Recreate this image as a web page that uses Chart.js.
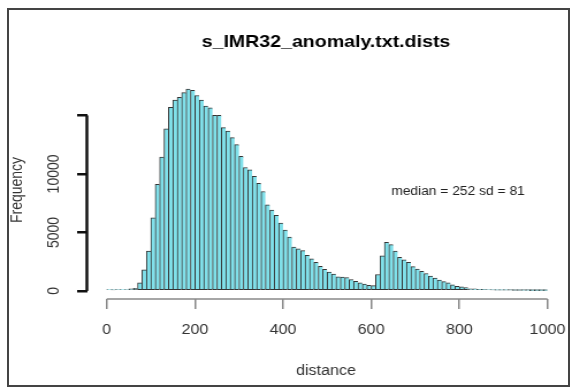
<!DOCTYPE html>
<html>
<head>
<meta charset="utf-8">
<script src="https://cdn.jsdelivr.net/npm/chart.js@4/dist/chart.umd.min.js"></script>
<style>
	html, body { margin: 0; padding: 0; background: #fff; overflow: hidden; }
	#wrap { position: absolute; left: 0; top: 0; width: 497px; height: 388px; transform: scaleX(1.1509); transform-origin: 0 0; }
	#frame { position: absolute; left: 7px; top: 8px; width: 559px; height: 375px; border: 2px solid #444; pointer-events: none; }
</style>
</head>
<body>
<div id="wrap"><canvas id="chart" width="497" height="388"></canvas></div>
<div id="frame"></div>
<script>
	'use strict';

	// Histogram bins (left edges, width 10) and counts.
	const binWidth = 10;
	const binStarts = [
		0, 10, 20, 30, 40, 50, 60, 70, 80, 90,
		100, 110, 120, 130, 140, 150, 160, 170, 180, 190,
		200, 210, 220, 230, 240, 250, 260, 270, 280, 290,
		300, 310, 320, 330, 340, 350, 360, 370, 380, 390,
		400, 410, 420, 430, 440, 450, 460, 470, 480, 490,
		500, 510, 520, 530, 540, 550, 560, 570, 580, 590,
		600, 610, 620, 630, 640, 650, 660, 670, 680, 690,
		700, 710, 720, 730, 740, 750, 760, 770, 780, 790,
		800, 810, 820, 830, 840, 850, 860, 870, 880, 890,
		900, 910, 920, 930, 940, 950, 960, 970, 980, 990,
	];
	const counts = [
		120, 90, 100, 110, 100, 180, 220, 700, 1800, 3400,
		6250, 9100, 11430, 13850, 15700, 16300, 16550, 16950, 17250, 17150,
		16700, 16300, 15800, 15650, 15000, 15000, 13950, 13650, 13100, 12500,
		11500, 10550, 10350, 9800, 9200, 8500, 7350, 6900, 6450, 5800,
		5200, 4600, 3750, 3600, 3450, 3050, 2750, 2450, 2100, 1850,
		1600, 1450, 1200, 1180, 1150, 980, 820, 700, 580, 480,
		450, 1400, 3000, 4150, 3950, 3400, 2880, 2650, 2450, 2080,
		1870, 1670, 1490, 1270, 1090, 920, 800, 690, 520, 400,
		340, 290, 180, 170, 140, 130, 100, 90, 70, 60,
		60, 55, 50, 45, 40, 35, 30, 30, 25, 20,
	];

	const xTicks = [ 0, 200, 400, 600, 800, 1000 ];
	const xTickLabels = [ '0', '200', '400', '600', '800', '1000' ];
	const yTicks = [ 0, 5000, 10000, 15000 ];
	const yTickLabels = [ '0', '5000', '10000', '' ];

	const titleText = 's_IMR32_anomaly.txt.dists';
	const xTitle = 'distance';
	const yTitle = 'Frequency';
	const noteText = 'median = 252 sd = 81';
	const noteAt = [ 797, 8450 ];

	const FONT = '"Liberation Sans", Arial, Helvetica, sans-serif';
	Chart.defaults.font.family = FONT;

	// R pads the plot region by 4% of the data range on each side.
	const maxCount = Math.max( ...counts );
	const yMin = -0.04 * maxCount;
	const yMax = 1.04 * maxCount;

	// Detached R-style axis lines, from first to last tick, plus the text() note.
	const rAxes = {
		id: 'rAxes',
		afterDraw( chart ) {
			const { ctx, chartArea, scales } = chart;
			ctx.save();
			ctx.lineCap = 'butt';
			ctx.strokeStyle = '#888';
			ctx.lineWidth = 1.5;
			ctx.beginPath();
			ctx.moveTo( scales.x.getPixelForValue( xTicks[ 0 ] ), chartArea.bottom );
			ctx.lineTo( scales.x.getPixelForValue( xTicks[ xTicks.length - 1 ] ), chartArea.bottom );
			ctx.stroke();
			ctx.strokeStyle = '#111';
			ctx.lineWidth = 2.5;
			ctx.beginPath();
			ctx.moveTo( chartArea.left, scales.y.getPixelForValue( yTicks[ 0 ] ) );
			ctx.lineTo( chartArea.left, scales.y.getPixelForValue( yTicks[ yTicks.length - 1 ] ) );
			ctx.stroke();

			ctx.fillStyle = '#222';
			ctx.font = '12px ' + FONT;
			ctx.textAlign = 'center';
			ctx.textBaseline = 'middle';
			ctx.fillText( noteText, scales.x.getPixelForValue( noteAt[ 0 ] ), scales.y.getPixelForValue( noteAt[ 1 ] ) );
			ctx.restore();
		},
	};

	new Chart( document.getElementById( 'chart' ), {
		type: 'bar',
		data: {
			datasets: [ {
				data: binStarts.map( ( s, i ) => ( { x: s + binWidth / 2, y: counts[ i ] } ) ),
				backgroundColor: '#80e0ea',
				borderColor: '#333',
				borderWidth: { top: 1, left: 1, bottom: 1, right: 0 },
				borderSkipped: false,
				barPercentage: 1,
				categoryPercentage: 1,
			} ],
		},
		options: {
			responsive: false,
			animation: false,
			events: [],
			layout: { padding: { top: 22, right: 6, left: 0, bottom: 0 } },
			plugins: {
				legend: { display: false },
				tooltip: { enabled: false },
				title: {
					display: true,
					text: titleText,
					fullSize: false,
					color: '#000',
					font: { size: 17, weight: 'bold' },
					padding: { top: 10, bottom: 28.6 },
				},
			},
			scales: {
				x: {
					type: 'linear',
					min: -45,
					max: 1040,
					offset: false,
					afterBuildTicks: ( s ) => { s.ticks = xTicks.map( ( v ) => ( { value: v } ) ); },
					afterFit: ( s ) => { s.height = 89; s.paddingLeft = 0; s.paddingRight = 0; },
					grid: { offset: false, drawOnChartArea: false, tickLength: 10, color: '#888', lineWidth: 1.5 },
					border: { display: false },
					ticks: { color: '#333', font: { size: 14 }, padding: 13, maxRotation: 0, callback: ( v, i ) => xTickLabels[ i ] },
					title: { display: true, text: xTitle, color: '#333', font: { size: 14 }, padding: { top: 0, bottom: 8.6 } },
				},
				y: {
					type: 'linear',
					min: yMin,
					max: yMax,
					afterBuildTicks: ( s ) => { s.ticks = yTicks.map( ( v ) => ( { value: v } ) ); },
					afterFit: ( s ) => { s.width = 75.5; s.paddingTop = 0; s.paddingBottom = 0; },
					grid: { drawOnChartArea: false, tickLength: 8.5, color: '#111', lineWidth: 2.5 },
					border: { display: false },
					ticks: {
						color: '#333',
						font: { size: 14 },
						padding: 0,
						minRotation: 90,
						maxRotation: 90,
						crossAlign: 'center',
						callback: ( v, i ) => yTickLabels[ i ],
					},
					title: { display: true, text: yTitle, color: '#333', font: { size: 14 }, padding: { top: 7, bottom: 0 } },
				},
			},
		},
		plugins: [ rAxes ],
	} );
</script>
</body>
</html>
